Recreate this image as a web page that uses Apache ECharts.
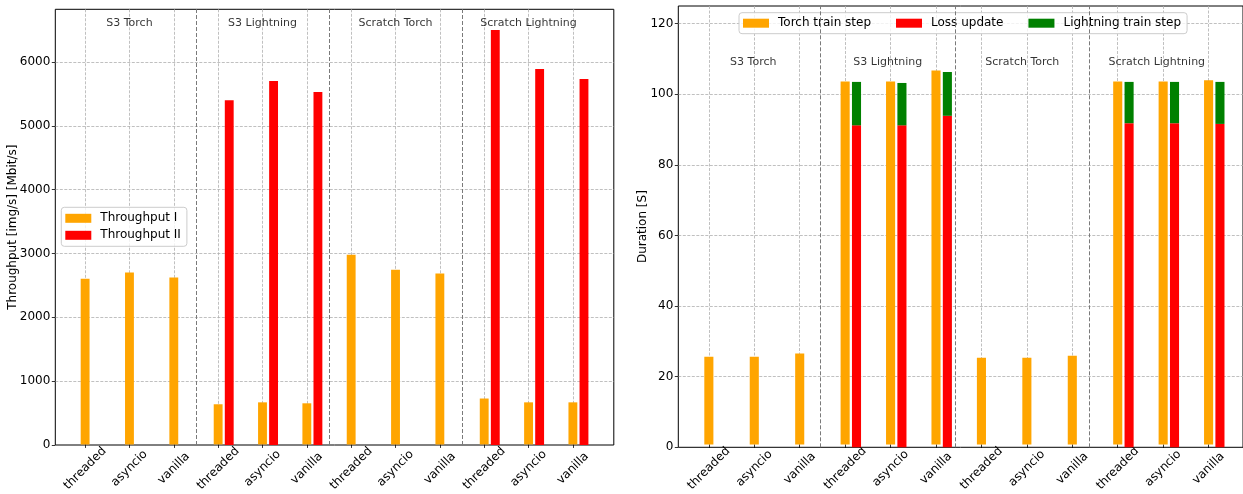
<!DOCTYPE html>
<html><head><meta charset="utf-8">
<script src="https://cdn.jsdelivr.net/npm/echarts@6/dist/echarts.min.js"></script>
<style>html,body{margin:0;padding:0;background:#fff}#c{width:1243px;height:494px}</style>
</head><body><div id="c"></div>
<script>
// ---- data ----
const groups = ['S3 Torch', 'S3 Lightning', 'Scratch Torch', 'Scratch Lightning'];
const methods = ['threaded', 'asyncio', 'vanilla'];
const categories = groups.flatMap(() => methods);

const throughputI  = [2600, 2695, 2620, 630, 660, 645, 2975, 2740, 2680, 720, 660, 660];
const throughputII = [null, null, null, 5400, 5700, 5530, null, null, null, 6500, 5890, 5735];

const torchTrainStep     = [25.0, 25.0, 25.9, 103.5, 103.5, 106.6, 24.7, 24.7, 25.3, 103.5, 103.5, 103.8];
const lossUpdate         = [null, null, null, 91.2, 91.2, 93.9, null, null, null, 91.8, 91.8, 91.6];
const lightningTrainStep = [null, null, null, 12.3, 12.0, 12.4, null, null, null, 11.7, 11.7, 11.9];

const leftYMax = 6825, leftYInterval = 1000;
const rightYMax = 125, rightYInterval = 20;

// ---- layout ----
const BAR_W = 0.2, OFFSET = 0.25;
const xMin = -BAR_W / 2 - 0.05 * (categories.length - 1 + OFFSET + BAR_W);
const xMax = categories.length - 1 + OFFSET + BAR_W / 2 + 0.05 * (categories.length - 1 + OFFSET + BAR_W);
const gridStyle = { color: '#b0b0b0', type: [3, 1.5], width: 0.8 };
const sepPositions = groups.slice(1).map((g, i) => (i + 1) * methods.length - 0.5);
const titleX = groups.map((g, i) => i * methods.length + (methods.length - 1) / 2);
const toNull = a => a.map(v => v == null ? '-' : v);

function panel(p) {
  const frameW = p.right - p.left, frameH = p.bottom - p.top;
  const unit = frameW / (xMax - xMin);
  const catLeft = p.left + (0 - xMin) * unit;
  const catW = (categories.length - 1) * unit;
  const gi = p.gridBase;
  const grids = [
    { left: p.left, top: p.top, width: frameW, height: frameH, show: true, borderColor: '#000', borderWidth: 1, backgroundColor: 'transparent' },
    { left: catLeft, top: p.top, width: catW, height: frameH, show: false },
    { left: catLeft + OFFSET * unit, top: p.top, width: catW, height: frameH, show: false }
  ];
  const xAxes = [
    { gridIndex: gi, type: 'value', min: xMin, max: xMax, show: false },
    { gridIndex: gi + 1, type: 'category', data: categories, boundaryGap: false,
      axisLine: { show: false, onZero: false },
      axisTick: { show: true, length: 3.5, lineStyle: { color: '#000', width: 0.8 } },
      axisLabel: { interval: 0, rotate: 45, align: 'center', verticalAlign: 'middle', margin: 24, color: '#000', fontSize: 12 },
      splitLine: { show: true, lineStyle: gridStyle } },
    { gridIndex: gi + 2, type: 'category', data: categories, boundaryGap: false, show: false }
  ];
  const yAxes = [
    { gridIndex: gi, type: 'value', min: 0, max: p.yMax, interval: p.yInterval,
      axisLine: { show: false, onZero: false },
      axisTick: { show: true, length: 3.5, lineStyle: { color: '#000', width: 0.8 } },
      axisLabel: { color: '#000', fontSize: 12, margin: 5, showMaxLabel: false, formatter: v => String(v) },
      splitLine: { show: true, showMinLine: false, showMaxLine: false, lineStyle: gridStyle },
      name: p.yName, nameLocation: 'middle', nameGap: p.nameGap, nameMoveOverlap: false,
      nameTextStyle: { color: '#000', fontSize: 12 } },
    { gridIndex: gi + 1, type: 'value', min: 0, max: p.yMax, show: false },
    { gridIndex: gi + 2, type: 'value', min: 0, max: p.yMax, show: false }
  ];
  const barW = BAR_W * unit;
  const series = [
    { type: 'line', xAxisIndex: gi, yAxisIndex: gi, data: [], silent: true,
      markLine: { silent: true, symbol: ['none', 'none'], label: { show: false },
        lineStyle: { color: '#7a7a7a', type: [4, 2], width: 1 },
        data: sepPositions.map(x => ({ xAxis: x })) } },
    { type: 'scatter', xAxisIndex: gi, yAxisIndex: gi, silent: true, symbolSize: 1,
      itemStyle: { color: 'transparent' },
      data: titleX.map(x => [x, p.titleY]),
      label: { show: true, position: 'inside', color: '#000', fontSize: 11,
        formatter: prm => groups[prm.dataIndex] } }
  ];
  p.series.forEach(s => {
    series.push(Object.assign({ type: 'bar', barWidth: barW, clip: false,
      xAxisIndex: gi + s.sub, yAxisIndex: gi + s.sub }, s.opt));
  });
  return { grids, xAxes, yAxes, series };
}

const L = panel({ gridBase: 0, left: 55.3, right: 613.8, top: 9.3, bottom: 445,
  yMax: leftYMax, yInterval: leftYInterval, yName: 'Throughput [img/s] [Mbit/s]', nameGap: 36,
  titleY: 6606,
  series: [
    { sub: 1, opt: { name: 'Throughput I', data: throughputI, itemStyle: { color: '#FFA500' } } },
    { sub: 2, opt: { name: 'Throughput II', data: toNull(throughputII), itemStyle: { color: '#FF0000' } } }
  ] });
const R = panel({ gridBase: 3, left: 678.3, right: 1250.5, top: 6.0, bottom: 447.3,
  yMax: rightYMax, yInterval: rightYInterval, yName: 'Duration [S]', nameGap: 29,
  titleY: 109.05,
  series: [
    { sub: 1, opt: { name: 'Torch train step', data: torchTrainStep, itemStyle: { color: '#FFA500' } } },
    { sub: 2, opt: { name: 'Loss update', data: toNull(lossUpdate), stack: 'l', itemStyle: { color: '#FF0000' } } },
    { sub: 2, opt: { name: 'Lightning train step', data: toNull(lightningTrainStep), stack: 'l', itemStyle: { color: '#008000' } } }
  ] });

const legendBase = { icon: 'rect', itemWidth: 26, itemHeight: 9, selectedMode: false,
  borderColor: '#cccccc', borderWidth: 1, borderRadius: 3, backgroundColor: 'rgba(255,255,255,0.8)',
  textStyle: { color: '#000', fontSize: 12, padding: [0, 0, 0, 4] } };

const option = {
  animation: false,
  textStyle: { fontFamily: 'DejaVu Sans' },
  grid: [...L.grids, ...R.grids],
  xAxis: [...L.xAxes, ...R.xAxes],
  yAxis: [...L.yAxes, ...R.yAxes],
  legend: [
    Object.assign({}, legendBase, { orient: 'vertical', left: 61.3, top: 207.3, itemGap: 5, padding: [5, 6, 5, 4],
      data: ['Throughput I', 'Throughput II'] }),
    Object.assign({}, legendBase, { orient: 'horizontal', left: 739, top: 12.7, itemGap: 25, padding: [4.5, 6, 4.5, 4],
      data: ['Torch train step', 'Loss update', 'Lightning train step'] })
  ],
  series: [...L.series, ...R.series]
};
const chart = echarts.init(document.getElementById('c'), null, { renderer: 'canvas' });
chart.setOption(option);
</script></body></html>
